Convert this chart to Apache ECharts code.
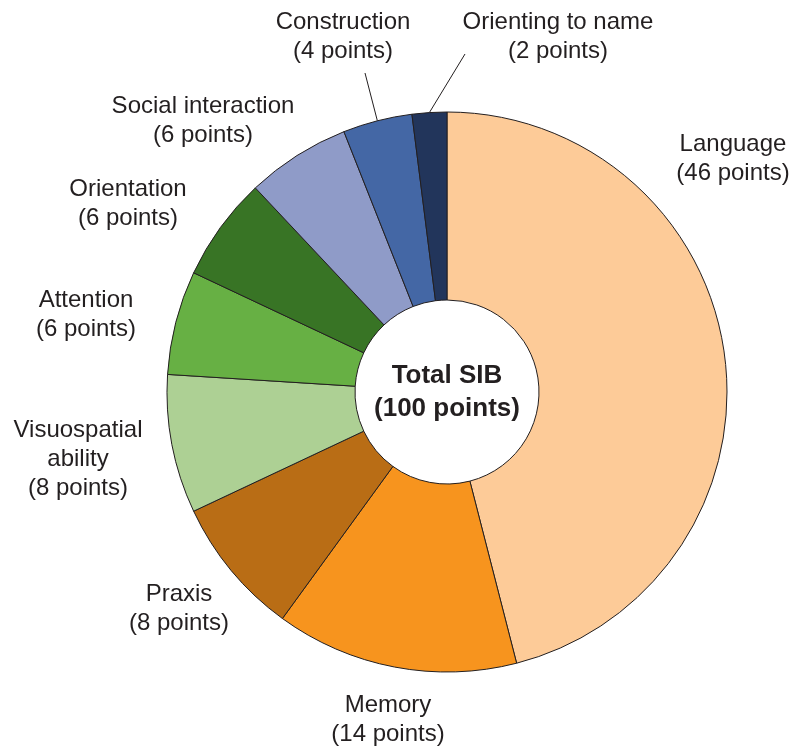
<!DOCTYPE html>
<html>
<head>
<meta charset="utf-8">
<script src="https://cdn.jsdelivr.net/npm/echarts@6/dist/echarts.min.js"></script>
<style>
  html, body { margin: 0; padding: 0; background: #ffffff; }
  #chart { width: 792px; height: 746px; }
</style>
</head>
<body>
<div id="chart"></div>
<script>
// ---- data ----
const categories = ['Language', 'Memory', 'Praxis', 'Visuospatial ability', 'Attention',
  'Orientation', 'Social interaction', 'Construction', 'Orienting to name'];
const points = [46, 14, 8, 8, 6, 6, 6, 4, 2];
const centerTitle = 'Total SIB';
const centerSubtitle = '(100 points)';

// ---- styles / layout ----
const colors = ['#FDCB98', '#F7941E', '#B96D15', '#ADD094', '#67B044',
  '#387425', '#8F9BC8', '#4467A5', '#22355B'];
const CX = 447, CY = 392;
const labelAnchors = [
  [733, 159], [388, 720], [179, 609], [78, 459], [86, 315],
  [128, 204], [203, 121], [343, 37], [558, 37]
];
const lineEnds = { 7: [365, 73], 8: [465, 54] };
const textColor = '#231f20';
const fontFamily = '"Liberation Sans", Arial, Helvetica, sans-serif';

const chart = echarts.init(document.getElementById('chart'), null, { renderer: 'canvas' });

const seriesData = categories.map((name, i) => ({
  name: name,
  value: points[i],
  itemStyle: { color: colors[i] },
  labelLine: { show: lineEnds[i] !== undefined }
}));

chart.setOption({
  animation: false,
  backgroundColor: '#ffffff',
  series: [{
    type: 'pie',
    center: [CX, CY],
    radius: [92, 280],
    startAngle: 90,
    clockwise: true,
    avoidLabelOverlap: false,
    data: seriesData,
    itemStyle: { borderColor: textColor, borderWidth: 1 },
    emphasis: { disabled: true },
    label: {
      show: true,
      position: 'outside',
      color: textColor,
      fontFamily: fontFamily,
      fontSize: 24,
      lineHeight: 29,
      align: 'center',
      formatter: p => p.name.replace(' ability', '\nability') + '\n(' + p.value + ' points)'
    },
    labelLine: {
      show: false,
      length: 20,
      length2: 10,
      lineStyle: { color: textColor, width: 1 }
    },
    labelLayout: function (params) {
      const i = params.dataIndex;
      const a = labelAnchors[i];
      const out = { x: a[0], y: a[1], align: 'center', verticalAlign: 'middle' };
      if (lineEnds[i] && params.labelLinePoints) {
        out.labelLinePoints = [params.labelLinePoints[0], lineEnds[i]];
      }
      return out;
    }
  }],
  graphic: [{
    type: 'text',
    x: CX,
    y: CY,
    silent: true,
    style: {
      text: centerTitle + '\n' + centerSubtitle,
      fill: textColor,
      font: 'bold 26px ' + fontFamily,
      lineHeight: 33,
      align: 'center',
      verticalAlign: 'middle'
    }
  }]
});
</script>
</body>
</html>
